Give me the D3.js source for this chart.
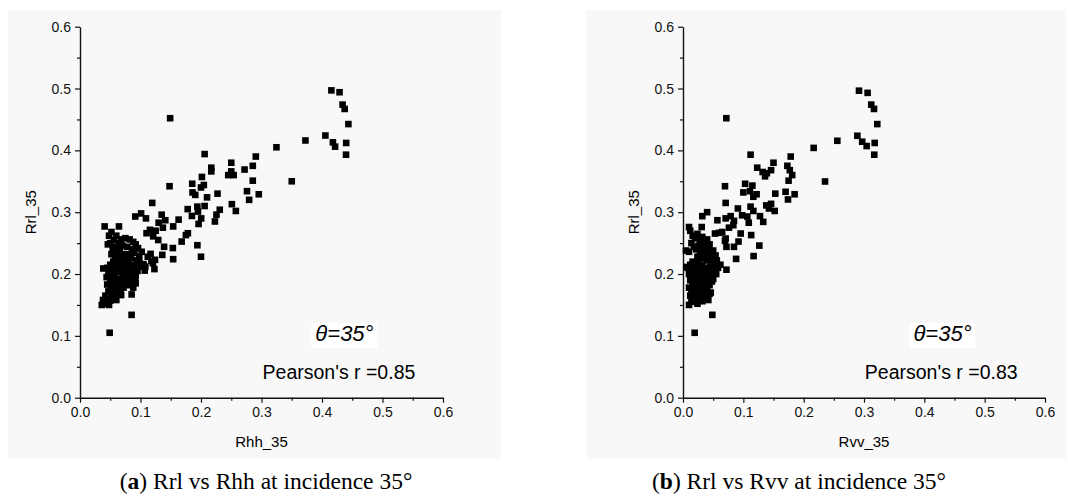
<!DOCTYPE html>
<html>
<head>
<meta charset="utf-8">
<script src="https://cdn.jsdelivr.net/npm/d3@7"></script>
<style>
  body { margin: 0; background: #fff; }
  svg { display: block; }
</style>
</head>
<body>
<div id="chart"></div>
<script>
// values (x, Rrl_35)
const rhhPoints = [
  [0.4155,0.497],[0.429,0.494],[0.434,0.474],[0.4375,0.467],[0.4436,0.4425],[0.4056,0.424],
  [0.418,0.413],[0.4216,0.406],[0.440,0.412],[0.4397,0.393],[0.3726,0.416],[0.3247,0.405],
  [0.350,0.350],[0.149,0.452],[0.049,0.105],[0.0853,0.134],[0.0853,0.167],
  [0.206,0.394],[0.2906,0.390],[0.250,0.380],[0.2856,0.375],[0.272,0.369],[0.217,0.372],
  [0.217,0.366],[0.250,0.366],[0.245,0.360],[0.254,0.360],[0.2015,0.357],[0.2856,0.351],
  [0.148,0.342],[0.1855,0.346],[0.2047,0.344],[0.200,0.340],[0.2273,0.330],[0.276,0.334],
  [0.2955,0.329],[0.186,0.332],[0.1905,0.328],[0.210,0.324],[0.2796,0.320],[0.1194,0.315],
  [0.251,0.313],[0.206,0.310],[0.194,0.309],[0.178,0.305],[0.231,0.304],[0.2576,0.302],
  [0.195,0.301],[0.2003,0.290],[0.2256,0.296],[0.0914,0.293],[0.101,0.298],[0.109,0.290],
  [0.185,0.294],[0.223,0.285],[0.196,0.281],[0.135,0.296],[0.141,0.287],[0.163,0.288],
  [0.154,0.277],[0.130,0.283],[0.137,0.275],[0.125,0.270],[0.1156,0.2715],[0.110,0.266],
  [0.121,0.261],[0.1293,0.255],[0.1783,0.266],[0.175,0.263],[0.168,0.2525],[0.139,0.244],
  [0.1535,0.242],[0.136,0.231],[0.194,0.2466],[0.200,0.228],[0.154,0.224],[0.124,0.223],
  [0.1167,0.2326],[0.1205,0.2175],[0.123,0.208],[0.108,0.212],[0.107,0.2056],[0.0644,0.277],
  [0.0407,0.277],[0.088,0.196],[0.0385,0.209],
  [0.048,0.262],[0.052,0.268],[0.056,0.255],[0.050,0.250],[0.060,0.262],[0.064,0.250],
  [0.058,0.244],[0.068,0.256],[0.054,0.240],[0.062,0.236],[0.070,0.246],[0.046,0.248],
  [0.066,0.240],[0.052,0.232],[0.058,0.228],
  [0.075,0.258],[0.082,0.256],[0.088,0.252],[0.092,0.248],[0.078,0.244],[0.086,0.240],
  [0.096,0.242],[0.090,0.234],[0.080,0.232],[0.098,0.228],[0.102,0.236],[0.094,0.222],
  [0.084,0.226],[0.105,0.216],[0.100,0.212],[0.090,0.215],[0.112,0.228],[0.118,0.221],
  [0.045,0.210],[0.050,0.215],[0.055,0.220],[0.060,0.212],[0.065,0.218],[0.070,0.222],
  [0.075,0.214],[0.080,0.218],[0.085,0.210],[0.048,0.200],[0.053,0.205],[0.058,0.198],
  [0.063,0.204],[0.068,0.208],[0.073,0.200],[0.078,0.205],[0.083,0.198],[0.088,0.203],
  [0.092,0.196],[0.050,0.190],[0.055,0.193],[0.060,0.188],[0.065,0.192],[0.070,0.186],
  [0.075,0.190],[0.080,0.182],[0.085,0.188],[0.090,0.190],[0.045,0.183],[0.052,0.180],
  [0.057,0.176],[0.062,0.181],[0.067,0.175],[0.072,0.178],[0.077,0.184],[0.047,0.172],
  [0.053,0.168],[0.058,0.165],[0.063,0.170],[0.068,0.166],[0.042,0.165],[0.046,0.160],
  [0.050,0.157],[0.055,0.162],[0.060,0.158],[0.038,0.158],[0.036,0.150],[0.042,0.152],
  [0.048,0.150],[0.044,0.195],[0.047,0.205],[0.095,0.205],[0.098,0.218],[0.092,0.185],
  [0.088,0.178],[0.083,0.192],[0.070,0.196],[0.066,0.228],[0.072,0.232],[0.076,0.225]
];

const rvvPoints = [
  [0.2917,0.4965],[0.306,0.493],[0.312,0.474],[0.3166,0.467],[0.322,0.4425],[0.289,0.4236],
  [0.297,0.414],[0.3044,0.407],[0.3177,0.412],[0.317,0.393],[0.2558,0.4155],[0.2166,0.404],
  [0.2354,0.3497],[0.0718,0.452],[0.0193,0.105],[0.0486,0.134],
  [0.112,0.393],[0.1785,0.390],[0.150,0.380],[0.173,0.375],[0.177,0.368],[0.123,0.372],
  [0.132,0.365],[0.146,0.368],[0.136,0.358],[0.139,0.363],[0.181,0.360],[0.175,0.351],
  [0.0696,0.342],[0.103,0.346],[0.115,0.343],[0.111,0.334],[0.100,0.332],[0.122,0.329],
  [0.1166,0.325],[0.153,0.330],[0.170,0.333],[0.185,0.329],[0.174,0.3206],[0.0707,0.315],
  [0.112,0.309],[0.138,0.311],[0.146,0.3135],[0.152,0.302],[0.1166,0.302],[0.1425,0.306],
  [0.091,0.306],[0.1276,0.2936],[0.133,0.2844],[0.098,0.295],[0.1066,0.293],[0.057,0.287],
  [0.0707,0.290],[0.079,0.2936],[0.0845,0.286],[0.109,0.283],[0.0834,0.279],[0.0762,0.275],
  [0.031,0.276],[0.010,0.276],[0.032,0.2936],[0.040,0.300],[0.0956,0.2655],[0.113,0.263],
  [0.0597,0.2666],[0.0707,0.2574],[0.065,0.268],[0.053,0.2655],[0.0845,0.244],[0.092,0.2525],
  [0.1265,0.246],[0.0696,0.2536],[0.072,0.244],[0.117,0.229],[0.088,0.2245],[0.072,0.207],
  [0.005,0.238],[0.006,0.2115],
  [0.012,0.270],[0.016,0.262],[0.020,0.258],[0.024,0.265],[0.028,0.255],[0.032,0.260],
  [0.036,0.250],[0.040,0.256],[0.044,0.248],[0.014,0.250],[0.018,0.244],[0.022,0.240],
  [0.026,0.246],[0.030,0.238],[0.034,0.242],[0.038,0.234],[0.042,0.240],[0.046,0.232],
  [0.050,0.238],[0.054,0.230],[0.048,0.222],[0.052,0.215],[0.056,0.222],[0.045,0.212],
  [0.040,0.222],[0.036,0.228],[0.032,0.225],[0.028,0.230],[0.024,0.228],[0.010,0.236],
  [0.058,0.210],[0.055,0.200],[0.050,0.205],[0.062,0.215],
  [0.008,0.210],[0.012,0.215],[0.016,0.220],[0.020,0.212],[0.024,0.218],[0.028,0.210],
  [0.032,0.214],[0.036,0.206],[0.040,0.210],[0.044,0.202],[0.010,0.200],[0.014,0.205],
  [0.018,0.198],[0.022,0.204],[0.026,0.196],[0.030,0.200],[0.034,0.194],[0.038,0.198],
  [0.042,0.190],[0.046,0.194],[0.012,0.190],[0.016,0.186],[0.020,0.192],[0.024,0.184],
  [0.028,0.188],[0.032,0.180],[0.036,0.185],[0.040,0.178],[0.044,0.182],[0.048,0.188],
  [0.010,0.178],[0.014,0.174],[0.018,0.180],[0.022,0.172],[0.026,0.176],[0.030,0.168],
  [0.034,0.172],[0.038,0.165],[0.044,0.168],[0.012,0.165],[0.016,0.160],[0.020,0.168],
  [0.024,0.158],[0.028,0.162],[0.032,0.156],[0.010,0.150],[0.014,0.155],[0.024,0.152],
  [0.042,0.158],[0.046,0.170],[0.050,0.192]
];

const majorTicks = [0, 0.1, 0.2, 0.3, 0.4, 0.5, 0.6];
const minorTicks = [0.05, 0.15, 0.25, 0.35, 0.45, 0.55];

const panels = [
  { points: rhhPoints, xLabel: "Rhh_35", r: "Pearson's r =0.85", tag: "a", caption: " Rrl vs Rhh at incidence 35°",
    bg: [8, 501], x0: 80, x1: 443, thetaAt: 0.437, capX: 266 },
  { points: rvvPoints, xLabel: "Rvv_35", r: "Pearson's r =0.83", tag: "b", caption: " Rrl vs Rvv at incidence 35°",
    bg: [586, 1066], x0: 683, x1: 1045, thetaAt: 0.430, capX: 799 }
];

const width = 1068, height = 502;
const yTop = 26.7, yBottom = 397.7;
const sans = "'Liberation Sans', Arial, sans-serif";

const svg = d3.select("#chart").append("svg")
  .attr("width", width)
  .attr("height", height);

panels.forEach(p => {
  const g = svg.append("g");

  g.append("rect")
    .attr("x", p.bg[0]).attr("y", 10)
    .attr("width", p.bg[1] - p.bg[0]).attr("height", 449)
    .attr("fill", "#f8f8f8");

  const x = d3.scaleLinear().domain([0, 0.6]).range([p.x0, p.x1]);
  const y = d3.scaleLinear().domain([0, 0.6]).range([yBottom, yTop]);

  // minor ticks first, then major axis on top
  g.append("g")
    .attr("transform", `translate(0,${yBottom})`)
    .call(d3.axisBottom(x).tickValues(minorTicks).tickSize(3).tickFormat(""))
    .call(s => s.select(".domain").remove());
  g.append("g")
    .attr("transform", `translate(${p.x0},0)`)
    .call(d3.axisLeft(y).tickValues(minorTicks).tickSize(3).tickFormat(""))
    .call(s => s.select(".domain").remove());

  const xAxis = g.append("g")
    .attr("transform", `translate(0,${yBottom})`)
    .call(d3.axisBottom(x).tickValues(majorTicks).tickSize(5).tickSizeOuter(0)
      .tickPadding(4).tickFormat(d3.format(".1f")));
  const yAxis = g.append("g")
    .attr("transform", `translate(${p.x0},0)`)
    .call(d3.axisLeft(y).tickValues(majorTicks).tickSize(5).tickSizeOuter(0)
      .tickPadding(4).tickFormat(d3.format(".1f")));

  [xAxis, yAxis].forEach(a => {
    a.attr("font-size", 14).attr("font-family", sans);
    a.selectAll(".tick text").attr("font-size", 14).attr("fill", "#111");
    a.select(".domain").attr("stroke", "#111").attr("stroke-width", 1.4);
  });
  g.selectAll(".tick line").attr("stroke", "#111").attr("stroke-width", 1.2);

  g.append("text")
    .attr("x", (p.x0 + p.x1) / 2).attr("y", 447)
    .attr("text-anchor", "middle")
    .attr("font-family", sans).attr("font-size", 15)
    .text(p.xLabel);

  g.append("text")
    .attr("transform", `translate(${p.x0 - 44},${(yTop + yBottom) / 2}) rotate(-90)`)
    .attr("text-anchor", "middle")
    .attr("font-family", sans).attr("font-size", 15)
    .text("Rrl_35");

  g.append("g").selectAll("rect")
    .data(p.points)
    .join("rect")
    .attr("x", d => x(d[0]) - 3.3)
    .attr("y", d => y(d[1]) - 3.3)
    .attr("width", 6.6).attr("height", 6.6)
    .attr("fill", "#000");

  // annotation box
  const tx = x(p.thetaAt);
  g.append("rect")
    .attr("x", tx - 33).attr("y", 323)
    .attr("width", 66).attr("height", 25)
    .attr("fill", "#fff");
  g.append("text")
    .attr("x", tx).attr("y", 341)
    .attr("text-anchor", "middle")
    .attr("font-family", sans).attr("font-size", 22).attr("font-style", "italic")
    .text("θ=35°");
  g.append("text")
    .attr("x", x(0.428)).attr("y", 379)
    .attr("text-anchor", "middle")
    .attr("font-family", sans).attr("font-size", 19.5)
    .text(p.r);

  const cap = g.append("text")
    .attr("x", p.capX).attr("y", 489)
    .attr("text-anchor", "middle")
    .attr("font-family", "'Liberation Serif', 'Times New Roman', serif")
    .attr("font-size", 23.5);
  cap.append("tspan").text("(");
  cap.append("tspan").attr("font-weight", "bold").text(p.tag);
  cap.append("tspan").text(")" + p.caption);
});
</script>
</body>
</html>
